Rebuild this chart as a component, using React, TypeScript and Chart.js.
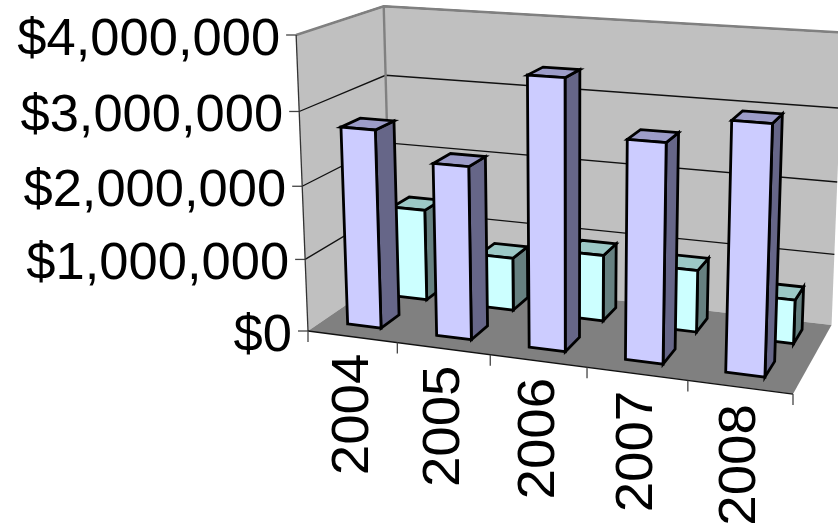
import React, { useEffect, useRef } from "react";
import { Chart, registerables } from "chart.js";

Chart.register(...registerables);

const years = ["2004", "2005", "2006", "2007", "2008"];
const frontSeries = [2730000, 2350000, 3600000, 2880000, 3220000];
const backSeries = [1310000, 750000, 930000, 860000, 600000];
const yTicks = [0, 1000000, 2000000, 3000000, 4000000];

const FONT = '52.5px "Liberation Sans", Arial, sans-serif';

// Perspective camera: picture of the box corners and its three vanishing points
const O = { x: 308, y: 331 };
const VPU = { x: -4212, y: -257 };
const VPD = { x: 1150, y: -245 };
const VPV = { x: 571, y: 6885 };
const KU = (793 - O.x) / (VPU.x - 793);
const KD = (391 - O.x) / (VPD.x - 391);
const KV = (35 - O.y) / (VPV.y - 35);

function project(u: number, d: number, v: number) {
  const w = 1 + u * KU + d * KD + v * KV;
  return {
    x: (O.x + u * KU * VPU.x + d * KD * VPD.x + v * KV * VPV.x) / w,
    y: (O.y + u * KU * VPU.y + d * KD * VPD.y + v * KV * VPV.y) / w,
  };
}

type P = { x: number; y: number };
function poly(ctx: CanvasRenderingContext2D, pts: P[], fill: string | null, stroke?: string, lw = 1) {
  ctx.beginPath();
  pts.forEach((p, i) => (i ? ctx.lineTo(p.x, p.y) : ctx.moveTo(p.x, p.y)));
  ctx.closePath();
  if (fill) {
    ctx.fillStyle = fill;
    ctx.fill();
  }
  if (stroke) {
    ctx.strokeStyle = stroke;
    ctx.lineWidth = lw;
    ctx.stroke();
  }
}
function line(ctx: CanvasRenderingContext2D, pts: P[], stroke: string, lw: number) {
  ctx.beginPath();
  pts.forEach((p, i) => (i ? ctx.lineTo(p.x, p.y) : ctx.moveTo(p.x, p.y)));
  ctx.strokeStyle = stroke;
  ctx.lineWidth = lw;
  ctx.stroke();
}

const depths: [number, number][] = [
  [0.165, 0.385],
  [0.66, 0.88],
];
const uShift = [-0.005, 0.01];
const tops = ["#9C9CC8", "#9CC8C6"];
const sides = ["#666688", "#668080"];

const box3d = {
  id: "box3d",
  afterLayout(chart: any) {
    // the value axis spans the front-left edge of the box
    const y = chart.scales.y;
    y.top = 35;
    y.bottom = 331;
    y.height = 296;
    y.configure();
    chart.chartArea.top = 35;
    chart.chartArea.bottom = 331;
    chart.chartArea.height = 296;
  },
  beforeDatasetsDraw(chart: any) {
    const { ctx, chartArea: a, scales } = chart;
    const yScale = scales.y;
    const xScale = scales.x;
    const toU = (px: number) => (px - a.left) / (a.right - a.left);
    const toV = (py: number) => (a.bottom - py) / (a.bottom - a.top);
    ctx.save();
    ctx.lineJoin = "miter";

    // walls and floor
    poly(ctx, [project(0, 0, 0), project(0, 1, 0), project(0, 1, 1), project(0, 0, 1)], "#C0C0C0");
    poly(ctx, [project(0, 1, 0), project(1, 1, 0), project(1, 1, 1), project(0, 1, 1)], "#C0C0C0");
    poly(ctx, [project(0, 0, 0), project(1, 0, 0), project(1, 1, 0), project(0, 1, 0)], "#808080");

    // gridlines and value ticks
    yScale.ticks.forEach((t: any) => {
      const v = toV(yScale.getPixelForValue(t.value));
      if (t.value > 0) {
        line(ctx, [project(0, 0, v), project(0, 1, v), project(1, 1, v)], "#111", 1.3);
      }
      const p = project(0, 0, v);
      line(ctx, [{ x: p.x - 10, y: p.y }, p], "#444", 1.3);
    });

    // wall edges
    line(ctx, [project(0, 0, 1), project(0, 1, 1), project(1, 1, 1)], "#808080", 2.4);
    line(ctx, [project(0, 1, 0), project(0, 1, 1)], "#808080", 2.4);
    line(ctx, [project(0, 0, 0), project(0, 0, 1)], "#333", 1.3);
    line(ctx, [project(0, 0, 0), project(1, 0, 0)], "#111", 1.3);

    // category ticks
    for (let i = 0; i <= years.length; i++) {
      const p = project(i / years.length, 0, 0);
      line(ctx, [p, { x: p.x, y: p.y + 11 }], "#444", 1.3);
    }

    // value labels follow the slanted front-left edge
    ctx.fillStyle = "#000";
    ctx.font = FONT;
    yScale.ticks.forEach((t: any) => {
      const v = toV(yScale.getPixelForValue(t.value));
      const p = project(0, 0, v);
      ctx.textAlign = "right";
      ctx.textBaseline = "middle";
      ctx.fillText(t.label, p.x - 16, p.y + 5.5);
    });

    // category labels
    years.forEach((_, i) => {
      const label = xScale.getLabelForValue(i);
      const u = toU(xScale.getPixelForValue(i));
      const p = project(u, 0, 0);
      ctx.save();
      ctx.translate(p.x + 1, p.y + 17);
      ctx.rotate(-Math.PI / 2);
      ctx.scale(1.04, 1);
      ctx.textAlign = "right";
      ctx.textBaseline = "middle";
      ctx.fillText(label, 0, 0);
      ctx.restore();
    });

    // bars, back series first
    [1, 0].forEach((ds) => {
      const meta = chart.getDatasetMeta(ds);
      const [d0, d1] = depths[ds];
      const face = chart.data.datasets[ds].backgroundColor;
      meta.data.forEach((el: any) => {
        const u0 = toU(el.x - el.width / 2) + uShift[ds];
        const u1 = toU(el.x + el.width / 2) + uShift[ds];
        const v1 = toV(el.y);
        const lw = 2.8;
        poly(ctx, [project(u1, d0, 0), project(u1, d1, 0), project(u1, d1, v1), project(u1, d0, v1)], sides[ds], "#000", lw);
        poly(ctx, [project(u0, d0, v1), project(u1, d0, v1), project(u1, d1, v1), project(u0, d1, v1)], tops[ds], "#000", lw);
        poly(ctx, [project(u0, d0, 0), project(u1, d0, 0), project(u1, d0, v1), project(u0, d0, v1)], face, "#000", lw);
      });
    });
    ctx.restore();
    return false;
  },
};

export default function App() {
  const ref = useRef<HTMLCanvasElement>(null);
  useEffect(() => {
    const chart = new Chart(ref.current!, {
      type: "bar",
      data: {
        labels: years,
        datasets: [
          { label: "Series 1", data: frontSeries, backgroundColor: "#CCCCFF" },
          { label: "Series 2", data: backSeries, backgroundColor: "#CCFFFF" },
        ],
      },
      plugins: [box3d],
      options: {
        responsive: false,
        animation: false,
        devicePixelRatio: 1,
        layout: { autoPadding: false, padding: { top: 35, right: 45, bottom: 194, left: 0 } },
        plugins: { legend: { display: false }, tooltip: { enabled: false } },
        datasets: { bar: { grouped: false, categoryPercentage: 1, barPercentage: 0.38 } },
        scales: {
          x: { display: false },
          y: {
            min: 0,
            max: 4000000,
            afterFit(s: any) {
              s.width = 308;
            },
            afterBuildTicks(s: any) {
              s.ticks = yTicks.map((value) => ({ value }));
            },
            grid: { display: false, drawTicks: false },
            border: { display: false },
            ticks: {
              display: false,
              callback: (v: any) => "$" + Number(v).toLocaleString("en-US"),
            },
          },
        },
      } as any,
    });
    return () => chart.destroy();
  }, []);
  return (
    <canvas
      ref={ref}
      width={838}
      height={525}
      style={{ position: "fixed", left: 0, top: 0, width: 838, height: 525, display: "block" }}
    />
  );
}
